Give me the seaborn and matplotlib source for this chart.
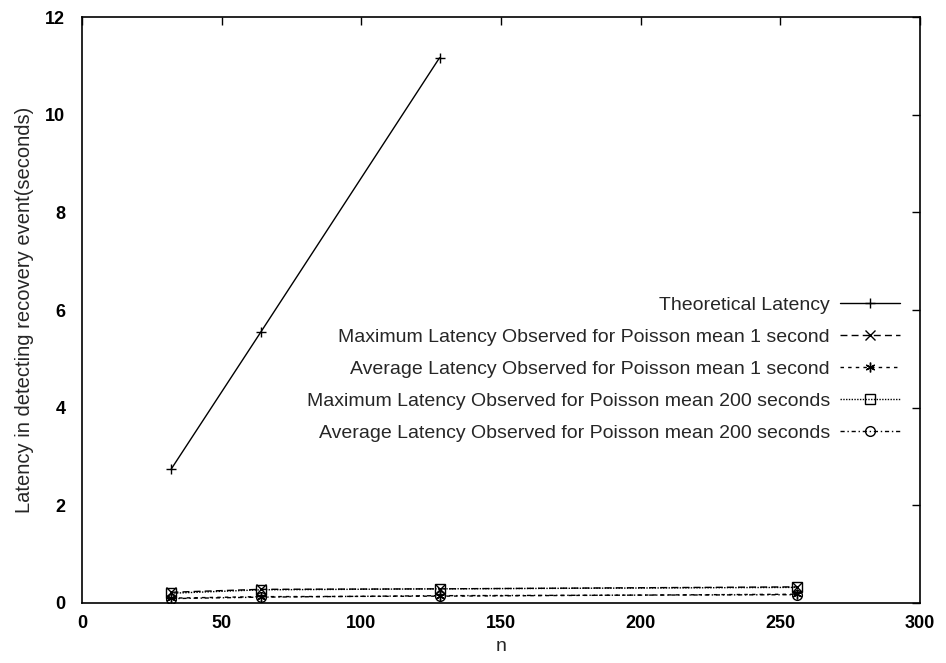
import matplotlib
matplotlib.use("Agg")
import matplotlib.pyplot as plt
import seaborn as sns
import pandas as pd

sns.set_style("white")
plt.rcParams['font.family'] = ['Liberation Sans', 'DejaVu Sans']

n_theory = [32, 64, 128]
theoretical = [2.75, 5.55, 11.17]
n_obs = [32, 64, 128, 256]
max_1s = [0.22, 0.28, 0.29, 0.33]
avg_1s = [0.10, 0.13, 0.14, 0.18]
max_200s = [0.20, 0.27, 0.29, 0.32]
avg_200s = [0.09, 0.12, 0.15, 0.17]

labels = ["Theoretical Latency",
          "Maximum Latency Observed for Poisson mean 1 second",
          "Average Latency Observed for Poisson mean 1 second",
          "Maximum Latency Observed for Poisson mean 200 seconds",
          "Average Latency Observed for Poisson mean 200 seconds"]

series = [(n_theory, theoretical), (n_obs, max_1s), (n_obs, avg_1s),
          (n_obs, max_200s), (n_obs, avg_200s)]
styles = [dict(marker='+', dashes=None),
          dict(marker='x', dashes=(5, 3)),
          dict(marker=(6, 2, 0), dashes=(2.5, 3)),
          dict(marker='s', dashes=(1, 1)),
          dict(marker='o', dashes=(3, 2, 1, 2))]

fig = plt.figure(figsize=(9.46, 6.63), dpi=100)
ax = fig.add_axes([0.0867, 0.0905, 0.8858, 0.8835])

for (x, y), lab, st in zip(series, labels, styles):
    df = pd.DataFrame({"n": x, "latency": y})
    sns.lineplot(data=df, x="n", y="latency", ax=ax, color="black", lw=1.0,
                 marker=st['marker'], markersize=7, markerfacecolor='none',
                 markeredgecolor='black', markeredgewidth=1.0, label=lab)
    line = ax.lines[-1]
    if st['dashes'] is not None:
        line.set_dashes(st['dashes'])

ax.set_xlim(0, 300)
ax.set_ylim(0, 12)
ax.set_xticks(range(0, 301, 50))
ax.set_yticks(range(0, 13, 2))
ax.tick_params(direction='in', top=True, right=True, length=6, width=1,
               labelsize=13, colors='black')
ax.tick_params(axis='y', pad=12)
ax.tick_params(axis='x', pad=9)
for t in ax.get_xticklabels() + ax.get_yticklabels():
    t.set_fontweight('bold')
for s in ax.spines.values():
    s.set_color('black')
    s.set_linewidth(1.2)
ax.set_xlabel("n", fontsize=14)
ax.set_ylabel("Latency in detecting recovery event(seconds)", fontsize=14.5, labelpad=8)

leg = ax.legend(loc='upper right', bbox_to_anchor=(0.997, 0.553), frameon=False,
                markerfirst=False, fontsize=14, handlelength=3.1,
                labelspacing=0.74, handletextpad=0.5)
leg._legend_box.align = "right"
for vp in leg.get_children()[0].get_children()[1].get_children():
    vp.align = "right"

fig.savefig("out.png", dpi=100)
